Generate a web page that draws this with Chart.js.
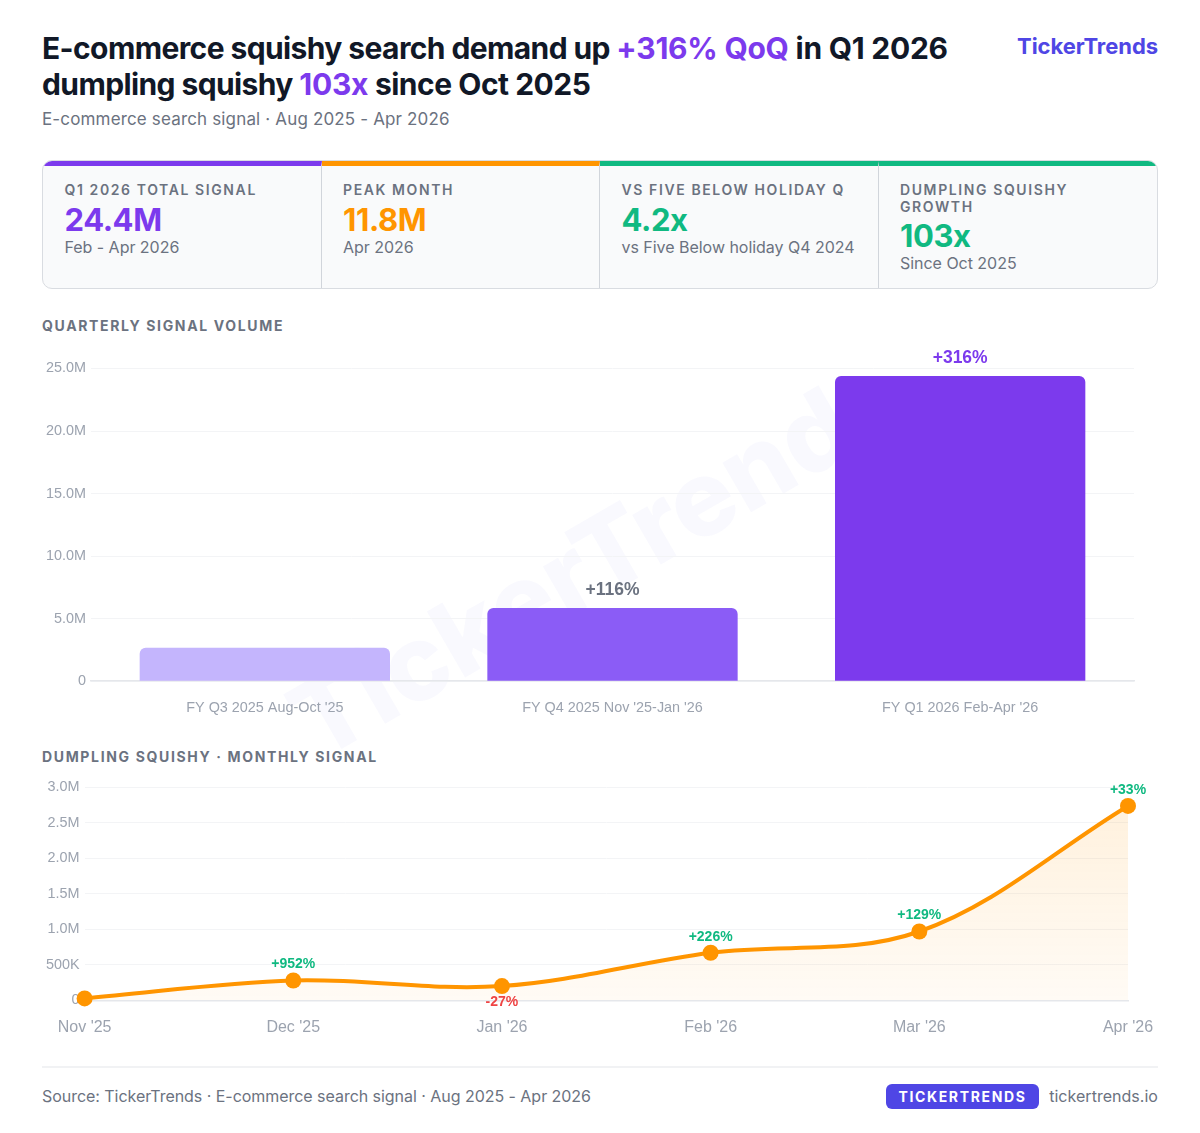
<!DOCTYPE html>
<html>
<head>
<meta charset="utf-8">
<script src="https://cdn.jsdelivr.net/npm/chart.js@4/dist/chart.umd.min.js"></script>
<style>
  html, body { margin: 0; padding: 0; background: #fff; }
  body { width: 1200px; height: 1133px; position: relative; overflow: hidden; font-family: Inter, sans-serif; color: #111827; }
  .abs { position: absolute; white-space: nowrap; }
  h1 { margin: 0; left: 42px; top: 30px; font-size: 30px; line-height: 36px; font-weight: 700; letter-spacing: -0.6px; color: #111827; }
  h1 span { letter-spacing: -0.25px; }
  h1 span.hi { color: #7c3aed; }
  h1 span.tail { letter-spacing: -0.48px; }
  .sub { left: 42px; top: 108px; font-size: 17px; line-height: 22px; color: #6b7280; letter-spacing: 0.155px; }
  .brand { right: 42px; top: 32px; font-size: 22px; line-height: 28px; font-weight: 700; color: #4f46e5; letter-spacing: -0.05px; }
  .cards { left: 42px; top: 160px; width: 1116px; height: 129px; box-sizing: border-box; border: 1.5px solid #d9dce1; border-radius: 10px; background: #f9fafb; display: flex; overflow: hidden; }
  .card { flex: none; width: 278.5px; box-sizing: border-box; border-top: 5px solid; border-right: 1.5px solid #d1d5db; padding: 16px 21.5px 0 21.5px; }
  .card:last-child { flex: 1 1 0; min-width: 0; border-right: 0; }
  .card .lab { font-size: 14px; line-height: 16.5px; font-weight: 600; letter-spacing: 1.6px; color: #6b7280; white-space: normal; }
  .card .val { font-size: 31px; line-height: 37px; font-weight: 700; letter-spacing: -0.4px; margin-top: 2px; }
  .card .note { font-size: 16px; line-height: 20px; color: #6b7280; letter-spacing: -0.03px; margin-top: -1px; }
  .sect { left: 42px; font-size: 14px; line-height: 18px; font-weight: 700; letter-spacing: 1.65px; color: #6b7280; }
  .wm { left: 597px; top: 557px; font-size: 105px; font-weight: 800; color: rgba(79,70,229,0.03); transform: translate(-50%,-50%) rotate(-30deg); }
  #barBox { left: 0; top: 340px; width: 1200px; height: 390px; }
  #lineBox { left: 0; top: 770px; width: 1200px; height: 280px; }
  .rule { left: 42px; top: 1066px; width: 1116px; height: 1.5px; background: #f1f2f4; }
  .src { left: 42px; top: 1085px; font-size: 16px; line-height: 22px; color: #6b7280; letter-spacing: -0.04px; }
  .pill { left: 886px; top: 1084px; width: 153px; height: 25px; border-radius: 6px; background: #4f46e5; color: #fff; font-size: 14px; line-height: 26px; font-weight: 700; letter-spacing: 1.65px; text-align: center; }
  .site { right: 42px; top: 1085px; font-size: 16px; line-height: 22px; color: #6b7280; letter-spacing: 0.03px; }
</style>
</head>
<body>
<div class="abs wm">TickerTrends</div>

<h1 class="abs">E-commerce squishy search demand up <span class="hi">+316% QoQ</span><span> in Q1 2026</span><br>dumpling squishy <span class="hi">103x</span><span class="tail"> since Oct 2025</span></h1>
<div class="abs sub">E-commerce search signal · Aug 2025 - Apr 2026</div>
<div class="abs brand">TickerTrends</div>

<div class="abs cards" id="cards"></div>

<div class="abs sect" style="top:317px">QUARTERLY SIGNAL VOLUME</div>
<div class="abs" id="barBox"><canvas id="barChart" width="1200" height="390"></canvas></div>

<div class="abs sect" style="top:748px">DUMPLING SQUISHY · MONTHLY SIGNAL</div>
<div class="abs" id="lineBox"><canvas id="lineChart" width="1200" height="280"></canvas></div>

<div class="abs rule"></div>
<div class="abs src">Source: TickerTrends · E-commerce search signal · Aug 2025 - Apr 2026</div>
<div class="abs pill">TICKERTRENDS</div>
<div class="abs site">tickertrends.io</div>

<script>
// ----------------------------------------------------------------------
const cardLabels = ["Q1 2026 TOTAL SIGNAL", "PEAK MONTH", "VS FIVE BELOW HOLIDAY Q", "DUMPLING SQUISHY GROWTH"]
const cardValues = ["24.4M", "11.8M", "4.2x", "103x"]
const cardNotes = ["Feb - Apr 2026", "Apr 2026", "vs Five Below holiday Q4 2024", "Since Oct 2025"]
const cardColors = ["#7c3aed", "#ff9500", "#10b981", "#10b981"]

const quarters = ["FY Q3 2025 Aug-Oct '25", "FY Q4 2025 Nov '25-Jan '26", "FY Q1 2026 Feb-Apr '26"]
const quarterValues = [2680000, 5850000, 24400000]
const quarterLabels = ["", "+116%", "+316%"]
const quarterLabelColors = ["#6b7280", "#6b7280", "#7c3aed"]
const quarterColors = ["#c4b5fd", "#8b5cf6", "#7c3aed"]

const months = ["Nov '25", "Dec '25", "Jan '26", "Feb '26", "Mar '26", "Apr '26"]
const monthValues = [27000, 279000, 200000, 670000, 970000, 2740000]
const monthLabels = ["", "+952%", "-27%", "+226%", "+129%", "+33%"]
const monthLabelColors = ["#10b981", "#10b981", "#ef4444", "#10b981", "#10b981", "#10b981"]

// ----------------------------------------------------------------------
cardLabels.forEach((label, i) => {
    const card = document.createElement("div")
    card.className = "card"
    card.style.borderTopColor = cardColors[i]
    card.innerHTML = '<div class="lab">' + label + '</div><div class="val" style="color:' + cardColors[i] + '">' +
        cardValues[i] + '</div><div class="note">' + cardNotes[i] + '</div>'
    document.getElementById("cards").appendChild(card)
})

function money(v) {
    if (v === 0) return "0"
    if (v >= 1000000) return (v / 1000000).toFixed(1) + "M"
    return (v / 1000) + "K"
}

// writes a short text above (or below, for falls) each mark
const valueLabels = {
    id: "valueLabels",
    afterDatasetsDraw(chart, args, opts) {
        const ctx = chart.ctx
        const points = chart.getDatasetMeta(0).data
        ctx.save()
        ctx.font = opts.font
        ctx.textAlign = "center"
        opts.texts.forEach((text, i) => {
            if (!text) return
            const below = text.charAt(0) === "-"
            ctx.fillStyle = opts.colors[i]
            ctx.textBaseline = below ? "top" : "bottom"
            ctx.fillText(text, points[i].x, points[i].y + (below ? opts.gap : -opts.gap))
        })
        ctx.restore()
    }
}

Chart.defaults.font.family = "'Liberation Sans', Helvetica, Arial, sans-serif"
Chart.defaults.animation = false

new Chart(document.getElementById("barChart"), {
    type: "bar",
    data: {
        labels: quarters,
        datasets: [{
            data: quarterValues,
            backgroundColor: quarterColors,
            borderRadius: { topLeft: 6, topRight: 6 },
            borderSkipped: "bottom",
            categoryPercentage: 0.9,
            barPercentage: 0.8
        }]
    },
    options: {
        responsive: false,
        layout: { padding: { left: 41, right: 66, top: 28.5, bottom: 3.5 } },
        plugins: {
            legend: { display: false },
            tooltip: { enabled: false },
            valueLabels: { texts: quarterLabels, colors: quarterLabelColors, font: "bold 17.5px 'Liberation Sans'", gap: 9 }
        },
        scales: {
            x: {
                grid: { display: false },
                border: { color: "#e5e7eb", width: 1.5 },
                ticks: { color: "#9ca3af", font: { size: 14.4 }, padding: 10 }
            },
            y: {
                min: 0, max: 25000000,
                grid: { color: "#f3f4f6", drawTicks: false },
                border: { display: false },
                ticks: { stepSize: 5000000, color: "#9ca3af", font: { size: 14.4 }, padding: 5, callback: money }
            }
        }
    },
    plugins: [valueLabels]
})

const lineCanvas = document.getElementById("lineChart")
const fillGrad = lineCanvas.getContext("2d").createLinearGradient(0, 40, 0, 230)
fillGrad.addColorStop(0, "rgba(255,149,0,0.13)")
fillGrad.addColorStop(1, "rgba(255,149,0,0.04)")

new Chart(lineCanvas, {
    type: "line",
    data: {
        labels: months,
        datasets: [{
            data: monthValues,
            borderColor: "#ff9500",
            borderWidth: 4,
            backgroundColor: fillGrad,
            fill: "origin",
            tension: 0.35,
            clip: false,
            pointRadius: 8,
            pointBackgroundColor: "#ff9500",
            pointBorderColor: "#ff9500",
            pointBorderWidth: 0
        }]
    },
    options: {
        responsive: false,
        layout: { padding: { left: 41, right: 72, top: 17.5, bottom: 2.5 } },
        plugins: {
            legend: { display: false },
            tooltip: { enabled: false },
            valueLabels: { texts: monthLabels, colors: monthLabelColors, font: "bold 14px 'Liberation Sans'", gap: 9 }
        },
        scales: {
            x: {
                offset: false,
                grid: { display: false },
                border: { color: "#e5e7eb", width: 1.5 },
                ticks: { color: "#9ca3af", font: { size: 16 }, padding: 10, maxRotation: 0 }
            },
            y: {
                min: 0, max: 3000000,
                grid: { color: "#f3f4f6", drawTicks: false },
                border: { display: false },
                ticks: { stepSize: 500000, color: "#9ca3af", font: { size: 14.4 }, padding: 5, callback: money }
            }
        }
    },
    plugins: [valueLabels]
})
// ----------------------------------------------------------------------
</script>
</body>
</html>
